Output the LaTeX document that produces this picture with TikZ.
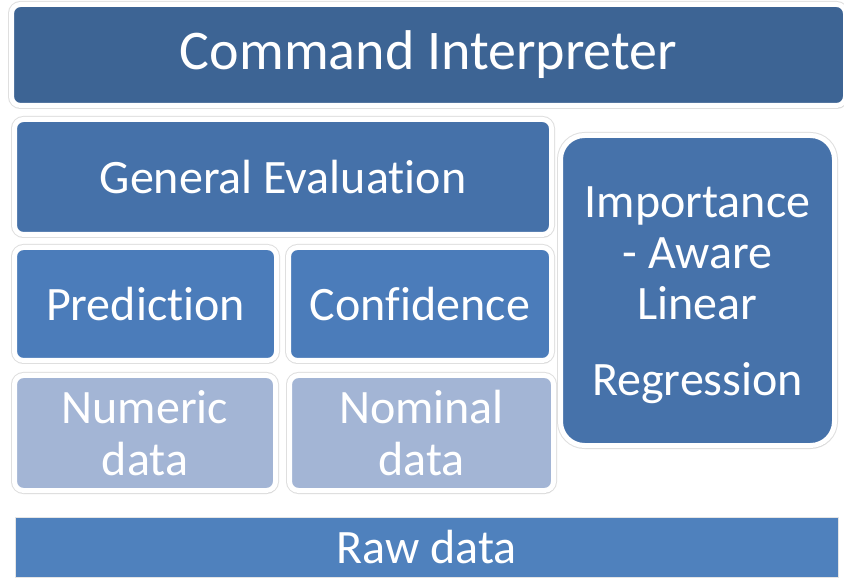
\documentclass[tikz,border=0pt]{standalone}
\usepackage{fontspec}
\setmainfont{Carlito}[Ligatures={NoCommon,NoRequired,NoContextual}]
\usetikzlibrary{shadows}
\definecolor{cmdblue}{HTML}{3D6494}
\definecolor{genblue}{HTML}{4571A9}
\definecolor{midblue}{HTML}{4B7CBA}
\definecolor{impblue}{HTML}{4672AA}
\definecolor{lightblue}{HTML}{A3B5D5}
\definecolor{rawblue}{HTML}{4F81BD}
\tikzset{
  blk/.style={draw=white, line width=5pt, rounded corners=9pt, text=white,
    align=center, inner sep=0pt,
    preaction={draw=gray!25, line width=7pt},
    drop shadow={shadow xshift=1pt, shadow yshift=-2.5pt, opacity=0.3, fill=gray}},
  big/.style={font=\fontsize{48}{52}\selectfont},
}
\begin{document}
\begin{tikzpicture}[x=1pt,y=-1pt]
\useasboundingbox[fill=white] (0,0) rectangle (844,585);
\node[blk, fill=cmdblue, minimum width=834pt, minimum height=101pt, font=\fontsize{56}{60}\selectfont] (cmd) at (428.5,55) {Command Interpreter};
\node[blk, big, fill=genblue, minimum width=537pt, minimum height=115pt] (gen) at (283,177) {General Evaluation};
\node[blk, big, fill=midblue, minimum width=262pt, minimum height=113pt] (pred) at (145.5,304) {Prediction};
\node[blk, big, fill=midblue, minimum width=263pt, minimum height=113pt] (conf) at (420,304) {Confidence};
\node[blk, fill=lightblue, minimum width=261pt, minimum height=115pt, font=\fontsize{48}{52}\selectfont] (num) at (145,433) {Numeric\\data};
\node[blk, fill=lightblue, minimum width=264pt, minimum height=115pt, font=\fontsize{48}{52}\selectfont] (nom) at (421.5,433) {Nominal\\data};
\node[blk, fill=impblue, rounded corners=24pt, minimum width=274pt, minimum height=310pt, font=\fontsize{48}{51}\selectfont] (imp) at (697.5,290.5) {\raisebox{-6pt}[\height][\depth]{\begin{tabular}{@{}c@{}}Importance\\- Aware\\Linear\\[25pt]Regression\end{tabular}}};
\node[draw=gray!20, line width=0.8pt, fill=rawblue, text=white, inner sep=0pt, minimum width=823pt, minimum height=60pt, big] (raw) at (426.5,547) {Raw data};
\end{tikzpicture}
\end{document}
